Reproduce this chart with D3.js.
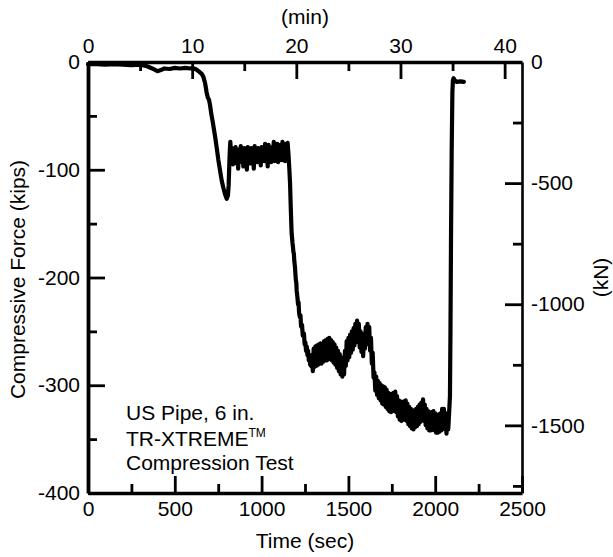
<!DOCTYPE html>
<html><head><meta charset="utf-8">
<script src="https://cdn.jsdelivr.net/npm/d3@7"></script>
<style>
body{margin:0;background:#fff;}
svg{display:block;font-family:"Liberation Sans",Arial,Helvetica,sans-serif;}
</style></head>
<body><svg id="c" width="613" height="557"></svg>
<script>
// ---- data (time in seconds, force in kips) ----
const series = [
[0,-2],[50,-2],[100,-2.5],[150,-2],[200,-2.5],[250,-3],[300,-2.5],[340,-4],[370,-6],[400,-8.5],[420,-7.5],[440,-6],[470,-6.5],[500,-5.5],[530,-6],[560,-5.5],[590,-6],[610,-6],
[625,-7],[640,-9],[655,-11],[665,-14],[675,-20],[683,-28],[690,-33],[697,-35],[703,-40],[710,-48],[718,-55],[725,-62],[732,-69],[740,-78],[751,-91],[760,-100],[770,-110],[780,-117],[790,-123],[799,-127],[806,-124],[810,-115],[814,-95],[817,-82],
[820,-74],[825,-92],[830,-80],[835,-95],[840,-82],[845,-90],[850,-79],[855,-94],[860,-83],[865,-99],[870,-81],[875,-91],[880,-78],[885,-93],[890,-84],[895,-97],[900,-80],[905,-89],[910,-82],[915,-100],[920,-79],[925,-92],[930,-85],[935,-94],[940,-80],[945,-90],[950,-83],[955,-99],[960,-78],[965,-91],[970,-82],[975,-93],[980,-80],[985,-89],[990,-84],[995,-96],[1000,-79],[1005,-90],[1010,-83],[1015,-92],[1020,-76],[1025,-91],[1030,-81],[1035,-97],[1040,-77],[1045,-89],[1050,-82],[1055,-93],[1060,-79],[1065,-90],[1070,-74],[1075,-92],[1080,-80],[1085,-88],[1090,-76],[1095,-93],[1100,-77],[1105,-90],[1110,-81],[1115,-91],[1120,-74],[1125,-89],[1130,-79],[1135,-92],[1140,-76],[1145,-90],[1150,-75],[1155,-86],
[1160,-100],[1164,-113],[1168,-135],[1171,-150],[1173,-159],[1176,-164],[1178,-168],[1181,-172],[1183,-176],[1186,-178],[1188,-184],[1192,-190],[1195,-197],[1197,-202],[1200,-205],[1202,-212],[1206,-218],[1210,-225],[1213,-223],[1216,-233],[1221,-237],[1224,-235],[1227,-245],[1230,-246],[1233,-244],[1237,-254],[1240,-254],[1244,-252],[1248,-262],[1252,-260],[1256,-268],[1260,-264],[1264,-272],[1268,-268],[1272,-277],[1276,-272],[1280,-281],[1285,-282],
[1290,-272],[1295,-287],[1300,-266],[1305,-283],[1310,-264],[1315,-282],[1320,-263],[1325,-281],[1330,-262],[1335,-280],[1340,-261],[1345,-280],[1350,-262],[1355,-278],[1360,-259],[1365,-277],[1370,-258],[1375,-277],[1380,-257],[1385,-276],[1390,-256],[1395,-275],[1400,-258],[1405,-277],[1410,-260],[1415,-279],[1420,-262],[1425,-281],[1430,-265],[1435,-284],[1440,-268],[1445,-287],[1450,-271],[1455,-290],[1460,-274],[1465,-292],[1470,-278],[1475,-290],[1480,-268],[1485,-282],[1490,-259],[1495,-277],[1500,-256],[1505,-274],[1510,-253],[1515,-270],[1520,-250],[1525,-267],[1530,-247],[1535,-263],[1540,-243],[1545,-260],[1550,-240],[1555,-256],[1560,-243],[1565,-265],[1570,-250],[1575,-269],[1580,-254],[1585,-273],[1590,-252],[1595,-266],[1600,-246],[1605,-262],[1610,-243],[1615,-260],[1620,-246],[1625,-268],[1630,-256],[1635,-280],[1640,-270],[1645,-293],
[1650,-288],[1655,-305],[1660,-292],[1665,-309],[1670,-296],[1675,-312],[1680,-298],[1685,-314],[1690,-300],[1695,-317],[1700,-301],[1705,-318],[1710,-302],[1715,-320],[1720,-304],[1725,-322],[1730,-307],[1735,-324],[1740,-308],[1745,-325],[1750,-308],[1755,-324],[1760,-307],[1765,-323],[1770,-306],[1775,-325],[1780,-310],[1785,-329],[1790,-314],[1795,-332],[1800,-315],[1805,-333],[1810,-316],[1815,-332],[1820,-315],[1825,-331],[1830,-314],[1835,-333],[1840,-317],[1845,-336],[1850,-320],[1855,-338],[1860,-322],[1865,-340],[1870,-324],[1875,-341],[1880,-323],[1885,-339],[1890,-322],[1895,-338],[1900,-320],[1905,-336],[1910,-318],[1915,-334],[1920,-316],[1925,-332],[1930,-313],[1935,-333],[1940,-318],[1945,-337],[1950,-322],[1955,-340],[1960,-324],[1965,-342],[1970,-326],[1975,-342],[1980,-325],[1985,-341],[1990,-324],[1995,-342],[2000,-326],[2005,-344],[2010,-328],[2015,-344],[2020,-327],[2025,-343],[2030,-326],[2035,-342],[2040,-322],[2045,-339],[2050,-322],[2055,-341],[2060,-326],[2065,-345],[2070,-326],[2075,-341],[2080,-326],
[2085,-310],[2088,-250],[2091,-165],[2095,-82],[2099,-28],[2102,-17],[2106,-15],[2112,-17],[2125,-18.5],[2145,-18],[2165,-18.5]
];
const secTicksMajor = [0,500,1000,1500,2000,2500];
const secTicksMinor = [250,750,1250,1750,2250];
const minTicksMajor = [0,10,20,30,40];
const minTicksMinor = [5,15,25,35];
const kipsTicksMajor = [0,-100,-200,-300,-400];
const kipsTicksMinor = [-50,-150,-250,-350];
const kNTicksMajor = [0,-500,-1000,-1500];
const kNTicksMinor = [-250,-750,-1250,-1750];
const annotationLines = ["US Pipe, 6 in.","TR-XTREME","Compression Test"];
const KN_PER_KIP = 4.44822;

// ---- layout ----
const L=88,R=522,T=62,B=493;
const svg=d3.select("#c");
const x=d3.scaleLinear([0,2500],[L,R]);
const xMin=d3.scaleLinear([0,2500/60],[L,R]);
const y=d3.scaleLinear([0,-400],[T,B]);
const yKN=d3.scaleLinear([0,-400*KN_PER_KIP],[T,B]);
const FS=21, MAJ=17, MIN=9;
const fmt = d => String(d);

function styleAxis(g,w){
  g.select(".domain").attr("stroke","#000").attr("stroke-width",w);
  g.selectAll(".tick line").attr("stroke","#000").attr("stroke-width",2.8);
  g.selectAll(".tick text").attr("fill","#000").attr("font-size",FS).attr("font-family","Liberation Sans, Arial, sans-serif");
}
// bottom
svg.append("g").attr("transform",`translate(0,${B})`)
  .call(d3.axisBottom(x).tickValues(secTicksMinor).tickSize(-MIN).tickFormat("")).call(g=>{g.select(".domain").remove();styleAxis(g,3);});
svg.append("g").attr("transform",`translate(0,${B})`)
  .call(d3.axisBottom(x).tickValues(secTicksMajor).tickSizeInner(-MAJ).tickSizeOuter(0).tickPadding(8).tickFormat(fmt)).call(g=>styleAxis(g,3.4));
// top
svg.append("g").attr("transform",`translate(0,${T})`)
  .call(d3.axisTop(xMin).tickValues(minTicksMinor).tickSize(-MIN).tickFormat("")).call(g=>{g.select(".domain").remove();styleAxis(g,3);});
svg.append("g").attr("transform",`translate(0,${T})`)
  .call(d3.axisTop(xMin).tickValues(minTicksMajor).tickSizeInner(-MAJ).tickSizeOuter(0).tickPadding(9).tickFormat(fmt)).call(g=>styleAxis(g,3.4));
// left
svg.append("g").attr("transform",`translate(${L},0)`)
  .call(d3.axisLeft(y).tickValues(kipsTicksMinor).tickSize(-MIN).tickFormat("")).call(g=>{g.select(".domain").remove();styleAxis(g,3);});
svg.append("g").attr("transform",`translate(${L},0)`)
  .call(d3.axisLeft(y).tickValues(kipsTicksMajor).tickSizeInner(-MAJ).tickSizeOuter(0).tickPadding(8).tickFormat(fmt)).call(g=>styleAxis(g,3.8));
// right
svg.append("g").attr("transform",`translate(${R},0)`)
  .call(d3.axisRight(yKN).tickValues(kNTicksMinor).tickSize(-MIN).tickFormat("")).call(g=>{g.select(".domain").remove();styleAxis(g,3);});
svg.append("g").attr("transform",`translate(${R},0)`)
  .call(d3.axisRight(yKN).tickValues(kNTicksMajor).tickSizeInner(-MAJ).tickSizeOuter(0).tickPadding(9).tickFormat(fmt)).call(g=>styleAxis(g,2.6));

// axis titles
svg.append("text").attr("x",(L+R)/2).attr("y",548).attr("text-anchor","middle").attr("font-size",FS).text("Time (sec)");
svg.append("text").attr("x",(L+R)/2).attr("y",24).attr("text-anchor","middle").attr("font-size",FS).text("(min)");
svg.append("text").attr("transform",`translate(25,${(T+B)/2+2}) rotate(-90)`).attr("text-anchor","middle").attr("font-size",FS).text("Compressive Force (kips)");
svg.append("text").attr("transform",`translate(608,${(T+B)/2}) rotate(-90)`).attr("text-anchor","middle").attr("font-size",FS).text("(kN)");

// data line
const line=d3.line().x(d=>x(d[0])).y(d=>y(d[1]));
svg.append("path").datum(series).attr("d",line).attr("fill","none").attr("stroke","#000")
  .attr("stroke-width",4.2).attr("stroke-linejoin","round").attr("stroke-linecap","round");

// annotation
const ann=svg.append("g").attr("font-size",FS);
ann.append("text").attr("x",126).attr("y",420).text(annotationLines[0]);
const t2=ann.append("text").attr("x",126).attr("y",446).text(annotationLines[1]);
t2.append("tspan").attr("font-size",12).attr("dy",-9).text("TM");
ann.append("text").attr("x",126).attr("y",470).text(annotationLines[2]);
</script></body></html>
